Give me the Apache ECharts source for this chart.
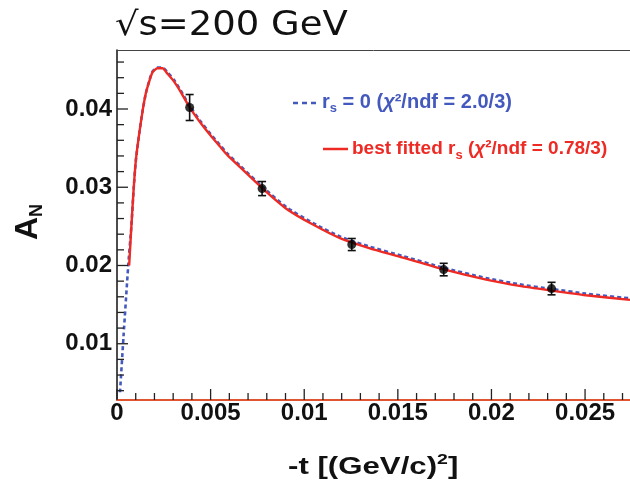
<!DOCTYPE html>
<html>
<head>
<meta charset="utf-8">
<script src="https://cdn.jsdelivr.net/npm/echarts@6/dist/echarts.min.js"></script>
<style>html,body{margin:0;padding:0;background:#fff}#c{width:630px;height:482px}</style>
</head>
<body>
<div id="c"></div>
<script>
// ---- data ----
const titleText = '√s=200 GeV';
const xTitleParts = ['-t [(GeV/c)', '2', ']'];
const yTitleMain = 'A';
const yTitleSub = 'N';
const legendBlue = ['r', 's', ' = 0 (', 'χ', '²/ndf = 2.0/3)'];
const legendRed = ['best fitted r', 's', ' (', 'χ', '²/ndf = 0.78/3)'];

const xMin = 0, xMax = 0.0274, xInterval = 0.005;
const yMin = 0.00281, yMax = 0.04754;
const xMajorTicks = [0, 0.005, 0.01, 0.015, 0.02, 0.025];
const xMinorTicks = [0.001, 0.002, 0.003, 0.004, 0.006, 0.007, 0.008, 0.009, 0.011, 0.012, 0.013, 0.014, 0.016, 0.017, 0.018, 0.019, 0.021, 0.022, 0.023, 0.024, 0.026, 0.027];
const yMajorTicks = [0.01, 0.02, 0.03, 0.04];
const yMinorTicks = [0.004, 0.006, 0.008, 0.012, 0.014, 0.016, 0.018, 0.022, 0.024, 0.026, 0.028, 0.032, 0.034, 0.036, 0.038, 0.042, 0.044, 0.046];

const dataT = [0.00388, 0.00775, 0.01254, 0.01745, 0.02321];
const dataAN = [0.04019, 0.02983, 0.02268, 0.01948, 0.01705];
const dataErr = [0.00166, 0.0009, 0.00077, 0.0008, 0.0008];

const fitT = [0.00065, 0.00077, 0.00089, 0.00101, 0.00119, 0.00137, 0.00154, 0.00172, 0.0019, 0.00216, 0.00243, 0.0027, 0.00305, 0.0034, 0.00388, 0.00447, 0.005, 0.0055, 0.0059, 0.0066, 0.00775, 0.00908, 0.01049, 0.01191, 0.01351, 0.01528, 0.01745, 0.01972, 0.02149, 0.02321, 0.02504, 0.0274];
const fitAN = [0.0200, 0.0251, 0.0298, 0.0335, 0.0369, 0.0398, 0.0420, 0.0435, 0.0447, 0.0452, 0.0452, 0.0445, 0.0435, 0.0422, 0.0402, 0.0382, 0.0366, 0.0352, 0.0341, 0.0325, 0.0299, 0.0272, 0.0252, 0.0235, 0.0222, 0.0210, 0.0195, 0.0182, 0.0174, 0.0168, 0.0162, 0.0156];

const rs0T = [0.00016, 0.00035, 0.0006, 0.00077, 0.00089, 0.00101, 0.00119, 0.00137, 0.00154, 0.00172, 0.0019, 0.00216, 0.00243, 0.0027, 0.00305, 0.0034, 0.00388, 0.00447, 0.005, 0.0055, 0.0059, 0.0066, 0.00775, 0.00908, 0.01049, 0.01191, 0.01351, 0.01528, 0.01745, 0.01972, 0.02149, 0.02321, 0.02504, 0.0274];
const rs0AN = [0.0038, 0.0110, 0.0200, 0.0251, 0.0298, 0.0335, 0.0369, 0.0398, 0.0420, 0.0436, 0.0448, 0.0453, 0.0453, 0.0447, 0.0437, 0.0424, 0.0404, 0.0384, 0.0368, 0.0354, 0.0343, 0.0327, 0.0301, 0.0274, 0.0254, 0.0237, 0.0224, 0.0212, 0.0197, 0.0184, 0.0176, 0.0170, 0.0164, 0.0158];

// ---- chart ----
const BLUE = '#4459bd', RED = '#ee2a24';
const LBL = {fontFamily: 'Liberation Sans', fontWeight: 'bold', fontSize: 24, color: '#111'};

const pts = dataT.map((t, i) => [t, dataAN[i], dataErr[i]]);
const fit = fitT.map((t, i) => [t, fitAN[i]]);
const rs0 = rs0T.map((t, i) => [t, rs0AN[i]]);
// tick anchor points lie on the axes: [x, y, length px]
const xTickItems = xMajorTicks.map(v => [v, yMin, 11]).concat(xMinorTicks.map(v => [v, yMin, 7]));
const yTickItems = yMajorTicks.map(v => [xMin, v, 11]).concat(yMinorTicks.map(v => [xMin, v, 7]));

function tickSeries(name, items, vertical) {
  return {
    name: name, type: 'custom', data: items, z: 6, silent: true, clip: false,
    encode: {x: 0, y: 1},
    renderItem: function (params, api) {
      const p = api.coord([api.value(0), api.value(1)]);
      const len = api.value(2);
      const q = vertical ? [p[0], p[1] - len] : [p[0] + len, p[1]];
      return {type: 'line', shape: {x1: p[0], y1: p[1], x2: q[0], y2: q[1]}, style: {stroke: '#222', lineWidth: 1.3}};
    }
  };
}

const chart = echarts.init(document.getElementById('c'), null, {renderer: 'canvas'});
chart.setOption({
  animation: false,
  grid: {left: 117, right: -1, top: 50, bottom: 82, show: false},
  xAxis: [{
    type: 'value', min: xMin, max: xMax, interval: xInterval, position: 'bottom',
    axisLine: {show: true, onZero: false, lineStyle: {color: '#e0552f', width: 2}},
    axisTick: {show: false},
    splitLine: {show: false},
    axisLabel: Object.assign({margin: 1, showMaxLabel: false, formatter: v => String(+v.toFixed(4))}, LBL)
  }, {
    type: 'value', min: xMin, max: xMax, interval: xInterval, position: 'top',
    axisLine: {show: true, onZero: false, lineStyle: {color: '#444', width: 1}},
    axisTick: {show: false}, splitLine: {show: false}, axisLabel: {show: false}
  }],
  yAxis: [{
    type: 'value', min: yMin, max: yMax,
    axisLine: {show: true, onZero: false, lineStyle: {color: '#111', width: 1.5}},
    axisTick: {show: false},
    splitLine: {show: false},
    axisLabel: Object.assign({margin: 5, customValues: yMajorTicks, formatter: v => String(+v.toFixed(4))}, LBL)
  }],
  series: [
    tickSeries('xticks', xTickItems, true),
    tickSeries('yticks', yTickItems, false),
  {
    name: 'rs0', type: 'line', data: rs0, showSymbol: false, symbol: 'none', smooth: 0.2, z: 2,
    lineStyle: {color: BLUE, width: 2.6, type: [4, 3]}
  }, {
    name: 'fit', type: 'line', data: fit, showSymbol: false, symbol: 'none', smooth: 0.2, z: 3,
    lineStyle: {color: RED, width: 2.4}
  }, {
    name: 'err', type: 'custom', data: pts, z: 4,
    renderItem: function (params, api) {
      const x = api.value(0), y = api.value(1), e = api.value(2);
      const top = api.coord([x, y + e]);
      const bot = api.coord([x, y - e]);
      const s = {stroke: '#111', lineWidth: 1.6};
      return {type: 'group', children: [
        {type: 'line', shape: {x1: top[0], y1: top[1], x2: bot[0], y2: bot[1]}, style: s},
        {type: 'line', shape: {x1: top[0] - 4, y1: top[1], x2: top[0] + 4, y2: top[1]}, style: s},
        {type: 'line', shape: {x1: bot[0] - 4, y1: bot[1], x2: bot[0] + 4, y2: bot[1]}, style: s}
      ]};
    }
  }, {
    name: 'data', type: 'scatter', data: pts, symbol: 'circle', symbolSize: 9, z: 5,
    itemStyle: {color: '#000'}
  }],
  graphic: [
    {type: 'text', left: 115, top: 10, scaleX: 1.12,
      style: {text: titleText, font: '33px "DejaVu Sans"', fill: '#111'}},
    {type: 'text', x: 288, y: 467, scaleX: 1.3,
      style: {text: '{a|' + xTitleParts[0] + '}{s|' + xTitleParts[1] + '}{a|' + xTitleParts[2] + '}', verticalAlign: 'middle',
        rich: {a: {font: 'bold 24px "Liberation Sans"', fill: '#111', lineHeight: 30},
               s: {font: 'bold 15px "Liberation Sans"', fill: '#111', verticalAlign: 'top', lineHeight: 30}}}},
    {type: 'text', x: 28, y: 222, rotation: Math.PI / 2,
      style: {text: '{a|' + yTitleMain + '}{n|' + yTitleSub + '}', align: 'center', verticalAlign: 'middle',
        rich: {a: {font: 'bold 32px "Liberation Sans"', fill: '#111', lineHeight: 36},
               n: {font: 'bold 18px "Liberation Sans"', fill: '#111', verticalAlign: 'bottom', lineHeight: 36}}}},
    {type: 'line', shape: {x1: 293, y1: 103, x2: 317, y2: 103}, style: {stroke: BLUE, lineWidth: 2.5, lineDash: [5, 4]}},
    {type: 'text', x: 322, y: 102,
      style: {text: '{m|' + legendBlue[0] + '}{s|' + legendBlue[1] + '}{m|' + legendBlue[2] + '}{i|' + legendBlue[3] + '}{m|' + legendBlue[4] + '}',
        verticalAlign: 'middle',
        rich: {m: {font: 'bold 20px "Liberation Sans"', fill: BLUE, lineHeight: 26},
               s: {font: 'bold 13px "Liberation Sans"', fill: BLUE, verticalAlign: 'bottom', lineHeight: 26},
               i: {font: 'italic bold 20px "Liberation Sans"', fill: BLUE, lineHeight: 26}}}},
    {type: 'line', shape: {x1: 323, y1: 149, x2: 348, y2: 149}, style: {stroke: RED, lineWidth: 2.5}},
    {type: 'text', x: 352, y: 149,
      style: {text: '{m|' + legendRed[0] + '}{s|' + legendRed[1] + '}{m|' + legendRed[2] + '}{i|' + legendRed[3] + '}{m|' + legendRed[4] + '}',
        verticalAlign: 'middle',
        rich: {m: {font: 'bold 19px "Liberation Sans"', fill: RED, lineHeight: 26},
               s: {font: 'bold 13px "Liberation Sans"', fill: RED, verticalAlign: 'bottom', lineHeight: 26},
               i: {font: 'italic bold 19px "Liberation Sans"', fill: RED, lineHeight: 26}}}}
  ]
});
</script>
</body>
</html>
